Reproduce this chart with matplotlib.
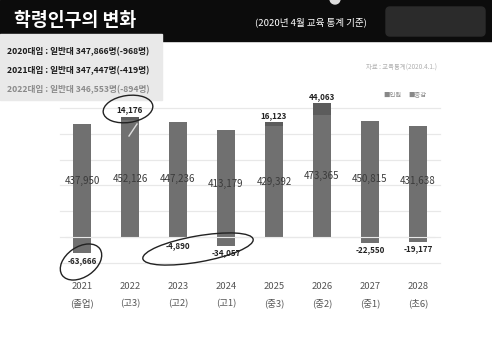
import matplotlib
matplotlib.use("Agg")
import matplotlib.pyplot as plt
from matplotlib.patches import Rectangle, FancyBboxPatch, Ellipse, Circle
import numpy as np

plt.rcParams['font.family'] = ['Noto Sans CJK KR', 'DejaVu Sans']

years = ['2021', '2022', '2023', '2024', '2025', '2026', '2027', '2028']
grades = ['(졸업)', '(고3)', '(고2)', '(고1)', '(중3)', '(중2)', '(중1)', '(초6)']
population = [437950, 452126, 447236, 413179, 429392, 473365, 450815, 431638]
change = [-63666, 14176, -4890, -34057, 16123, 44063, -22550, -19177]
grid_vals = [-100000, 0, 100000, 200000, 300000, 400000, 500000]

title = '학령인구의 변화'
subtitle = '(2020년 4월 교육 통계 기준)'
notes = ['2020대입 : 일반대 347,866명(-968명)',
         '2021대입 : 일반대 347,447명(-419명)',
         '2022대입 : 일반대 346,553명(-894명)']
source = '자료 : 교육통계(2020.4.1.)'
legend_labels = ['인원', '증감']

W, H = 492, 346
fig = plt.figure(figsize=(W / 100, H / 100), dpi=100)
fig.patch.set_facecolor('white')

# main axes (pixel layout: x 58..442, y 95..275)
ax = fig.add_axes([58 / W, 1 - 275 / H, 384 / W, 180 / H])
ax.set_xlim(-0.5, 7.5)
ax.set_ylim(-147000, 550000)
ax.axis('off')

x = np.arange(len(years))
bw = 0.375
pop_col = '#707070'
chg_col = '#5c5c5c'

for g in grid_vals:
    ax.axhline(g, xmin=0.005, xmax=0.995, color='#e8e8e8', lw=0.9, zorder=0)

ax.bar(x, population, width=bw, color=pop_col, zorder=2)
pos = [max(c, 0) for c in change]
neg = [min(c, 0) for c in change]
ax.bar(x, pos, width=bw, bottom=population, color=chg_col, zorder=2)
ax.bar(x, neg, width=bw, bottom=0, color=pop_col, zorder=2)
ax.axhline(0, xmin=0.02, xmax=0.98, color='#e8e8e8', lw=0.8, zorder=3)

for i in range(len(years)):
    ax.text(x[i], population[i] / 2, f'{population[i]:,}', ha='center', va='center',
            fontsize=7, color='#3a3a3a', zorder=4)
    c = change[i]
    if c >= 0:
        ax.text(x[i], population[i] + c + 9000, f'{c:,}', ha='center', va='bottom',
                fontsize=5.8, color='#222222', fontweight='bold', zorder=4)
    else:
        ax.text(x[i], c - 9000, f'{c:,}', ha='center', va='top',
                fontsize=5.8, color='#222222', fontweight='bold', zorder=4)
    ax.text(x[i], -190000, years[i], ha='center', va='center', fontsize=6.8,
            color='#555555', clip_on=False)
    ax.text(x[i], -258000, grades[i], ha='center', va='center', fontsize=6.8,
            color='#555555', clip_on=False)

# overlay for decorations in pixel coordinates
ov = fig.add_axes([0, 0, 1, 1], facecolor='none')
ov.set_xlim(0, W)
ov.set_ylim(H, 0)
ov.axis('off')

ov.add_patch(Rectangle((0, 0), W, 41, color='#0c0c0c', zorder=1))
ov.add_patch(FancyBboxPatch((386, 7), 99, 29, boxstyle='round,pad=0,rounding_size=4',
                            color='#2b2b2b', zorder=2))
ov.add_patch(Circle((335, -1), 5, color='#dddddd', zorder=2))
ov.text(14, 21, title, color='white', fontsize=13.2, fontweight='bold',
        va='center', ha='left', zorder=3)
ov.text(311, 22, subtitle, color='white', fontsize=6.9, va='center', ha='center', zorder=3)

ov.add_patch(Rectangle((0, 34), 162, 66, color='#e9e9e9', zorder=2))
note_cols = ['#1a1a1a', '#1a1a1a', '#8a8a8a']
note_y = [52, 71, 90]
for t, yy, cc in zip(notes, note_y, note_cols):
    ov.text(7, yy, t, color=cc, fontsize=6.2, fontweight='bold', va='center',
            ha='left', zorder=3)

ov.text(437, 68, source, color='#b0b0b0', fontsize=4.6, va='center', ha='right', zorder=3)
ov.text(383, 95, '■' + legend_labels[0], color='#888888', fontsize=4.6, va='center',
        ha='left', zorder=3)
ov.text(408, 95, '■' + legend_labels[1], color='#888888', fontsize=4.6, va='center',
        ha='left', zorder=3)

# hand-drawn marks
ink = '#222222'
ov.add_patch(Ellipse((128, 109), 50, 27, angle=-8, fill=False, ec=ink, lw=1.0, zorder=3))
ov.plot([137, 129], [124, 136], color='#dddddd', lw=1.0, zorder=3)
ov.add_patch(Ellipse((81, 262), 46, 30, angle=-35, fill=False, ec=ink, lw=1.0, zorder=3))
ov.add_patch(Ellipse((198, 249), 112, 26, angle=-10, fill=False, ec=ink, lw=1.0, zorder=3))

fig.savefig('out.png', dpi=100, facecolor='white')
